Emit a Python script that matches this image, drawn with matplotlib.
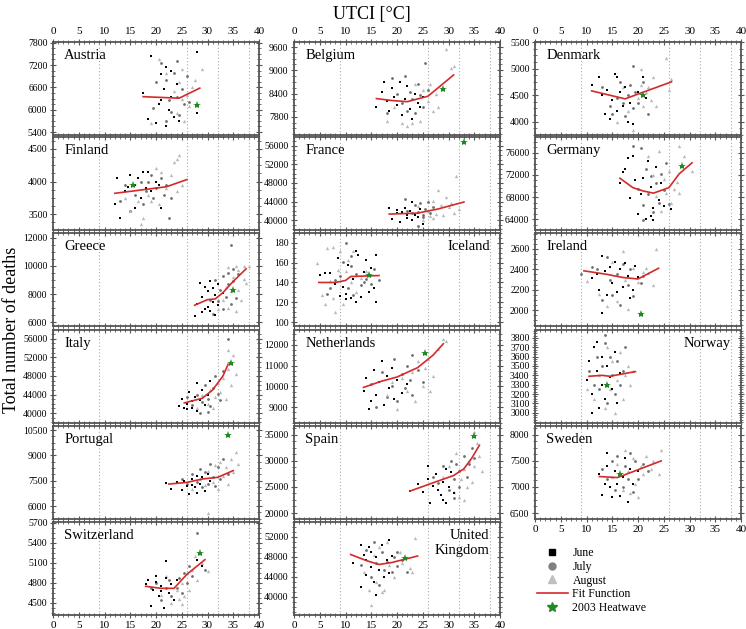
import matplotlib
matplotlib.use('Agg')
import matplotlib.pyplot as plt
from matplotlib.ticker import MultipleLocator, FixedLocator, AutoMinorLocator
from matplotlib.lines import Line2D

plt.rcParams['font.family'] = ['Liberation Serif', 'DejaVu Serif']

# ---- data: (UTCI, deaths) ----
austria_jun = [(17.5,6450),(18.5,5750),(19,7450),(20,5650),(20.5,6150),(21,6950),(21.5,6550),(22,5550),(22,7150),
               (22.5,6000),(23,6350),(23.5,5800),(24,6700),(24.5,5700),(21,6250),(23,7050),(28,7550),(28,5900)]
austria_jul = [(19.5,6050),(20,6750),(21,7250),(22,6800),(22.5,6250),(23,5950),(23.5,7000),(24,6350),(24.5,5850),
               (25,6550),(25.5,6150),(26,6900),(24,7300),(22,5700),(26.5,6200)]
austria_aug = [(19,5650),(20.5,7350),(22,7000),(23.5,6500),(24,5900),(24.5,6750),(25,7100),(25.5,5700),(26,6400),
               (26.5,6100),(27,6600),(27.5,6800),(29,7100),(28,6150),(25,6300)]
austria_fit = [(17.5,6350),(24.5,6310),(28.5,6580)]
austria_star = (28,6130)

belgium_jun = [(16,8050),(17,8450),(17.5,8700),(18,8200),(18.5,7950),(19,8550),(19.5,8300),(20,8100),(20.5,8700),
               (21,7850),(21.5,8250),(22,8600),(22.5,8000),(23,7750),(23.5,8400),(24,8150),(24.5,8050),(25,8300)]
belgium_jul = [(18,7900),(19,8800),(20,8400),(21,8150),(21.5,8850),(22,7950),(22.5,8450),(23,8250),(23.5,7900),
               (24,8650),(24.5,8350),(25,8050),(25.5,9200),(26,8500)]
belgium_aug = [(18,7700),(19.5,8050),(21,7650),(22,7550),(23,7650),(23.5,8650),(24.5,7700),(25,8500),(26,8200),
               (27,7950),(27.5,8400),(28,8050),(29.5,9550),(30.5,9050),(31,9100),(26.5,8650)]
belgium_fit = [(16,8270),(19,8220),(22,8190),(26,8330),(31,8880)]
belgium_star = (29,8530)

denmark_jun = [(11,4700),(12.5,4850),(13,4500),(13.5,4150),(14,4600),(14.5,4050),(15,4400),(15.5,4900),(16,4200),
               (16.5,4550),(17,4300),(17.5,4650),(18,4000),(18.5,4350),(19,3950),(20,4550),(21,4850),(21.5,4450),(16,4850)]
denmark_jul = [(13,4650),(14.5,4300),(15,4150),(16,4450),(16.5,4750),(17,4350),(17.5,4100),(18,4500),(18.5,4700),
               (19,4250),(19.5,4550),(20,4350),(21,4750),(22,4150),(19,5050)]
denmark_aug = [(16,4000),(17,4650),(18,4200),(19,3850),(20,4450),(20.5,4700),(21,4300),(21.5,4550),(22,4650),
               (22.5,4400),(23,4850),(23.5,4300),(25.5,5200),(26,4600),(26.5,4800),(20.5,5000)]
denmark_fit = [(11,4580),(17.5,4430),(20,4520),(26.5,4750)]
denmark_star = (21,4500)

finland_jun = [(12,3650),(12.5,4050),(13,3450),(14,3850),(15,4100),(15.5,3950),(16,3600),(16.5,4050),(17,3750),
               (17.5,4150),(18,3900),(18.5,4150),(19,3850),(20,4000),(20.5,3950),(21,3600),(16,3950),(14.5,3920)]
finland_jul = [(13,3700),(14,3950),(15,3550),(16,3800),(17,4000),(17.5,3650),(18,3850),(19,4100),(19.5,3750),
               (20,3900),(21,4050),(21.5,3800),(22,3950),(23,3750),(22.5,3450),(18.5,4000)]
finland_aug = [(14,3750),(15,3550),(16.5,3700),(17,3350),(17.5,3450),(18.5,3800),(19,3700),(20,4200),(20.5,3650),
               (21,4150),(22,3900),(23,4100),(23.5,4300),(24,4350),(24.5,4400),(25,3950),(24,3850)]
finland_fit = [(12,3820),(18,3880),(22,3920),(26,4030)]
finland_star = (15.5,3950)

france_jun = [(18.5,42600),(19,40300),(20,42200),(20.5,39600),(21,41800),(21.5,42700),(22,40500),(22.5,41900),
              (23,43800),(23.5,41000),(24,40700),(24.5,42400),(25,39100),(20,41500),(22,41200),(23,40000)]
france_jul = [(21.5,44500),(22,42000),(23,41500),(23.5,43200),(24,41800),(24.5,43600),(25,40600),(25.5,42300),
              (26,43900),(26.5,41600),(27,42800),(24,38700),(25,41200)]
france_aug = [(24,43000),(25,40100),(26,42000),(26.5,40800),(27,44100),(27.5,41300),(28,46500),(28.5,43300),
              (29,41000),(29.5,45000),(30,42800),(30.5,43700),(31,41600),(31.5,49600),(32,42500),(27,40400)]
france_fit = [(18.5,41300),(24,41500),(28,42400),(33,43900)]
france_star = (33,56800)

germany_jun = [(16.5,70500),(17,72500),(17.5,73000),(18,75000),(18.5,67800),(19,75500),(19.5,71000),(20,65000),
               (20.5,68500),(21,71500),(21.5,64000),(22,74500),(22.5,69800),(23,66000),(23,63800),(23.5,73500),
               (24,67500),(24.5,70500),(25,66300),(22.5,64500),(26.5,65800)]
germany_jul = [(19,77200),(20,69500),(20.5,76900),(21,66500),(21.5,73000),(22,68500),(22.5,71800),(23,65200),
               (23.5,70500),(24,67000),(24.5,72200),(25,69300),(25.5,74200),(26,66700),(21,63900)]
germany_aug = [(22,75500),(23,72000),(23.5,68200),(24,76400),(24.5,65500),(25,71200),(25.5,68800),(26,72800),
               (26.5,67000),(27,69500),(27.5,70800),(28,77200),(29,75500),(30.5,72800),(28,68800)]
germany_fit = [(16.5,71400),(19,69700),(21,69100),(23,68700),(26,69700),(28,72200),(30.5,74200)]
germany_star = (28.5,73700)

greece_jun = [(27.5,6400),(28,7300),(28.5,8800),(29,6700),(29,7800),(29.5,8500),(30,7100),(30,8200),(30.5,6800),
              (30.5,8900),(31,7400),(31,8400),(31.5,6500),(31.5,7900),(32,8700),(32,7200),(33,8100),(29.5,6900)]
greece_jul = [(30.5,7600),(31,6600),(31.5,9000),(32,7500),(32.5,8300),(33,9300),(33,6900),(33.5,7800),(34,8700),
              (34,9500),(34.5,7300),(35,8900),(35,9800),(35.5,7700),(36,9400),(34.5,11500)]
greece_aug = [(32,6900),(33,7600),(33.5,8500),(34,7000),(34.5,8200),(35,9200),(35.5,6800),(35.5,10000),(36,8300),
              (36,9700),(36.5,7600),(37,9100),(37,10000),(37.5,8800),(38,10000),(34,9900)]
greece_fit = [(27.5,7200),(30,7600),(31.5,7650),(33,8100),(35,8900),(37.5,9800)]
greece_star = (35,8300)

iceland_jun = [(5,148),(6,150),(7,150),(8,138),(8.5,165),(9,126),(9.5,135),(10,123),(10.5,158),(11,124),(11.5,144),
               (12,120),(12.5,168),(13,125),(13.5,151),(14,163),(14.5,130),(15,155),(15.5,134),(16,168),(16,120),
               (10,128),(12,172)]
iceland_jul = [(6.5,128),(7,134),(8,143),(9,147),(9.5,161),(10,180),(10.5,134),(11,157),(11.5,127),(12,149),
               (13,137),(13.5,140),(14,144),(15,138),(15.5,154),(16.5,143),(11,167)]
iceland_aug = [(4.5,160),(5.5,127),(6,118),(6.5,175),(7,141),(7.5,124),(8,110),(8.5,153),(9,172),(9.5,118),
               (10,152),(10.5,163),(11,140),(11.5,172),(12,130),(13,145),(14,152),(7.5,176)]
iceland_fit = [(4.8,140),(8,140),(10,142),(11,146),(16.5,147)]
iceland_star = (14.5,148)

ireland_jun = [(12,2350),(12.5,2200),(13,2530),(13.5,2380),(14,2150),(14.5,2420),(15,2270),(15.5,2470),(16,2180),
               (16.5,2400),(17,2230),(17.5,2460),(18,2330),(18.5,2120),(19,2200),(19.5,2430),(20,2320),(13,1970),
               (11,2310)]
ireland_jul = [(9,2350),(11,2420),(12,2400),(13,2100),(14,2520),(14.5,2300),(15,2150),(16,2350),(16.5,2050),
               (17,2450),(18,2250),(18.5,2400),(19,2140),(20.5,2270),(21,2330)]
ireland_aug = [(10,2290),(12.5,2160),(14,2040),(15,2470),(16,2090),(17,2580),(17.5,2300),(18,2010),(19,2410),
               (20,2280),(21,2370),(22,2360),(23,2250),(23.5,2600),(21.5,2410)]
ireland_fit = [(9.5,2385),(14,2350),(17,2320),(20,2305),(24,2410)]
ireland_star = (20.5,1965)

italy_jun = [(24.5,41500),(25,43000),(25.5,41000),(26,42000),(26.5,44500),(27,41200),(27.5,43500),(28,40500),
             (28,46500),(28.5,42800),(29,45000),(29.5,41800),(30,44000),(30.5,47000),(26,40800),(27,42600)]
italy_jul = [(26,43500),(27,41800),(28,44000),(28.5,40000),(29,42500),(29.5,46000),(30,43000),(30.5,41500),
             (31,45500),(31.5,48000),(32,44200),(32.5,42800),(33,49000),(34,56000),(30,40200)]
italy_aug = [(28,41200),(29,43800),(30,42000),(30.5,45000),(31,41000),(31.5,43500),(32,46500),(32.5,44500),
             (33,47500),(33.5,43000),(34,49500),(34.5,46000),(35,52500),(35.5,48500),(34,53500)]
italy_fit = [(25.5,42200),(29,43200),(31,45000),(33,48000),(34,50500)]
italy_star = (34.5,50800)

netherlands_jun = [(13.5,9800),(14,10400),(15,9300),(15.5,10800),(16,9600),(16.5,10200),(17,11200),(17.5,9100),
                   (18,10500),(18.5,9900),(19,10900),(19.5,9400),(20,10300),(21,9700),(22,10100),(14.5,8900)]
netherlands_jul = [(15,10100),(16,9000),(17,10700),(18,9500),(19,10000),(19.5,11300),(20,9300),(21,10600),
                   (21.5,9900),(22,11000),(22.5,10300),(23,9600),(24,10800),(23,11500),(25,10200)]
netherlands_aug = [(18,9600),(19,10200),(20,8900),(21,10400),(22,9800),(23,10700),(23.5,9300),(24,11200),
                   (25,10000),(25.5,10900),(26,11300),(27,10500),(28,11800),(29,12300),(29.5,12200),(26.5,9800)]
netherlands_fit = [(13.5,9950),(17,10250),(20,10450),(24,10900),(27,11500),(29,12050)]
netherlands_star = (25.5,11600)

norway_jun = [(10,3350),(10.5,3550),(11,3200),(11.5,3700),(12,3450),(12.5,3050),(13,3600),(13,3300),(13.5,3150),
              (14,3500),(14.5,3380),(15,3250),(15.5,3650),(16,3100),(16.5,3420),(12,3760),(11,3000)]
norway_jul = [(10.5,3450),(11.5,3300),(12,3600),(12.5,3250),(13,3500),(13.5,3750),(14,3100),(14.5,3600),
              (15,3400),(15.5,3200),(16,3550),(16.5,3300),(17,3450),(17.5,3700),(13.5,3830)]
norway_aug = [(10,3250),(11.5,3150),(12.5,3400),(13.5,3050),(14,3700),(14.5,3250),(15,3550),(16,3350),
              (16.5,3650),(17,3150),(17.5,3400),(18,3500),(18.5,3300),(19,3450),(15.5,3000)]
norway_fit = [(10.5,3390),(13,3400),(14.5,3390),(19.5,3440)]
norway_star = (14,3300)

portugal_jun = [(22,7350),(23,7000),(24,7400),(25,6950),(25.5,7500),(26,7200),(26.5,6700),(27,7600),(27.5,7100),
                (28,7800),(28,6800),(28.5,7300),(29,7700),(29.5,6900),(30,7900),(30.5,7500),(27,7250)]
portugal_jul = [(25,7600),(26,7300),(27,7900),(28,7400),(28.5,8200),(29,7100),(29.5,8000),(30,7300),(30.5,8500),
                (31,7700),(31.5,7200),(32,8300),(32.5,7600),(33,8800),(34,7900)]
portugal_aug = [(27,7000),(28.5,7600),(29.5,7250),(30,8100),(31,7450),(31.5,8400),(32,7000),(32.5,8600),(33,7800),
                (33.5,8300),(34,7300),(34.5,8800),(35,8000),(35.5,9200),(30,5600),(36,8500)]
portugal_fit = [(22.5,7300),(26,7400),(29,7600),(32,7700),(35,8100)]
portugal_star = (34,10200)

spain_jun = [(22.5,24200),(24,25500),(25,24000),(26,26500),(26.5,22000),(27,25200),(27.5,27500),(28,24500),
             (28.5,23500),(29,26000),(29,22500),(29.5,28500),(30,25000),(30.5,27800),(31,23800),(29.5,22000),(26,29000)]
spain_jul = [(27,27000),(28,25800),(29,29000),(30,24500),(30.5,30000),(31,26500),(31.5,29500),(32,25000),
             (32,28000),(33,31000),(33.5,27000),(34,29500),(34.5,32500),(35,30500),(31,22800)]
spain_aug = [(29,27000),(30,29000),(31,24000),(31.5,31500),(32,23000),(32.5,26500),(33,28500),(33.5,25000),
             (34,30000),(34.5,26000),(35,29000),(35.5,33500),(36,31000),(36.5,28000),(33,22500),(35,35500)]
spain_fit = [(22.5,24200),(27,25800),(31,27200),(33,28500),(34.5,30500),(36,33000)]
spain_star = (35,34800)

sweden_jun = [(12.5,7250),(13,6850),(13.5,7050),(14,7400),(14.5,7000),(15,6800),(15.5,7300),(16,7050),(16.5,6820),
              (17,7200),(17.5,7550),(18,6720),(18.5,7350),(19,7050),(20,7300),(14,7650)]
sweden_jul = [(13,7350),(14,7150),(15,7500),(15.5,6950),(16,7600),(16.5,7250),(17,7000),(17.5,7400),(18,7150),
              (18.5,7650),(19,6900),(19.5,7500),(20,7150),(21,7450),(22,7300)]
sweden_aug = [(15,7200),(16,7450),(17,6950),(17.5,7700),(18,7300),(18.5,6880),(19,7550),(19.5,7050),(20,6800),
              (20.5,7400),(21,7250),(21.5,7600),(22.5,7350),(23,7500),(24.5,7700),(24,7250)]
sweden_fit = [(12.5,7200),(16,7180),(20,7330),(24.5,7500)]
sweden_star = (16.5,7250)

switzerland_jun = [(18,4780),(18.5,4850),(19,4460),(19.5,4700),(20,4820),(20.5,4600),(21,4750),(21.5,4430),
                   (22,4880),(22.5,4650),(23,4780),(23.5,4550),(24,4850),(21,4680),(20,4900),(22,5130),(28,5150),(29,5050)]
switzerland_jul = [(19,4720),(20,4800),(21,4550),(22,4720),(22.5,4850),(23,4600),(24,4730),(24.5,4880),(25,4650),
                   (25.5,4950),(26,4800),(26.5,5050),(27,4900),(28,5550),(29.5,5000)]
switzerland_aug = [(21,4620),(22,4900),(23,4500),(24,4700),(24.5,4560),(25,4800),(25.5,4600),(26,4950),(26.5,4700),
                   (27,5000),(27.5,5200),(28,4850),(29,5100),(30,4980),(25,4480)]
switzerland_fit = [(18,4750),(21,4720),(23.5,4720),(26,4930),(29.5,5150)]
switzerland_star = (28.5,5250)

uk_jun = [(11.5,46800),(13,42000),(13,50500),(13.5,48500),(14,44500),(14,47500),(14.5,50000),(15,46000),(15,49000),
          (15.5,43000),(16,48000),(16.5,45500),(17,50500),(17.5,44000),(18,47500),(18.5,51500),(18.5,44800),
          (19,48200),(16,40500)]
uk_jul = [(13,46500),(14,49500),(15,44000),(15.5,51000),(16,46800),(16.5,42500),(17,49000),(17.5,45500),(18,47000),
          (19,45000),(19.5,48000),(20,46200),(21,47500),(22,45000),(20,49000)]
uk_aug = [(13.5,45000),(14.5,41500),(15,38500),(15.5,48500),(16,43000),(16.5,50000),(17,41000),(18,51000),
          (18.5,46500),(19.5,44000),(20.5,49000),(21,46800),(22.5,45800),(23,45000),(23.5,51800),(17.5,41500)]
uk_fit = [(11,48500),(14,47300),(16.5,46500),(19,46900),(24,48200)]
uk_star = (21.5,47900)

# name, y-limits, y-ticks, June, July, August, fit, star, label on right
panels = [
    ('Austria', (5320, 7820), [5400, 6000, 6600, 7200, 7800], austria_jun, austria_jul, austria_aug, austria_fit, austria_star, False),
    ('Belgium', (7330, 9730), [7800, 8400, 9000, 9600], belgium_jun, belgium_jul, belgium_aug, belgium_fit, belgium_star, False),
    ('Denmark', (3750, 5500), [4000, 4500, 5000, 5500], denmark_jun, denmark_jul, denmark_aug, denmark_fit, denmark_star, False),
    ('Finland', (3260, 4680), [3500, 4000, 4500], finland_jun, finland_jul, finland_aug, finland_fit, finland_star, False),
    ('France', (37870, 57900), [40000, 44000, 48000, 52000, 56000], france_jun, france_jul, france_aug, france_fit, france_star, False),
    ('Germany', (62030, 78870), [64000, 68000, 72000, 76000], germany_jun, germany_jul, germany_aug, germany_fit, germany_star, False),
    ('Greece', (5720, 12350), [6000, 8000, 10000, 12000], greece_jun, greece_jul, greece_aug, greece_fit, greece_star, False),
    ('Iceland', (96, 190), [100, 120, 140, 160, 180], iceland_jun, iceland_jul, iceland_aug, iceland_fit, iceland_star, True),
    ('Ireland', (1845, 2755), [2000, 2200, 2400, 2600], ireland_jun, ireland_jul, ireland_aug, ireland_fit, ireland_star, False),
    ('Italy', (37870, 57900), [40000, 44000, 48000, 52000, 56000], italy_jun, italy_jul, italy_aug, italy_fit, italy_star, False),
    ('Netherlands', (8240, 12710), [9000, 10000, 11000, 12000], netherlands_jun, netherlands_jul, netherlands_aug, netherlands_fit, netherlands_star, False),
    ('Norway', (2890, 3885), [3000, 3100, 3200, 3300, 3400, 3500, 3600, 3700, 3800], norway_jun, norway_jul, norway_aug, norway_fit, norway_star, True),
    ('Portugal', (5230, 10740), [6000, 7500, 9000, 10500], portugal_jun, portugal_jul, portugal_aug, portugal_fit, portugal_star, False),
    ('Spain', (18850, 36700), [20000, 25000, 30000, 35000], spain_jun, spain_jul, spain_aug, spain_fit, spain_star, False),
    ('Sweden', (6385, 8170), [6500, 7000, 7500, 8000], sweden_jun, sweden_jul, sweden_aug, sweden_fit, sweden_star, False),
    ('Switzerland', (4320, 5715), [4500, 4800, 5100, 5400, 5700], switzerland_jun, switzerland_jul, switzerland_aug, switzerland_fit, switzerland_star, False),
    ('United\nKingdom', (36400, 55000), [40000, 44000, 48000, 52000], uk_jun, uk_jul, uk_aug, uk_fit, uk_star, True),
]

thresholds = [9, 26, 32, 38]

W, H = 746, 629
fig = plt.figure(figsize=(W / 100, H / 100), dpi=100)

col_left = [53, 294, 535]
col_w = 206
row_top = [42, 137, 233, 330, 426, 522]
row_h = 93

fit_color = '#d42a2a'
star_color = '#1f8a1f'

for i, (name, ylim, yticks, jun, jul, aug, fit, star, right) in enumerate(panels):
    r, c = divmod(i, 3)
    ax = fig.add_axes([col_left[c] / W, 1 - (row_top[r] + row_h) / H, col_w / W, row_h / H])

    for t in thresholds:
        ax.axvline(t, color='#aaaaaa', ls=(0, (1, 2)), lw=0.8, zorder=0)

    ax.plot([p[0] for p in jun], [p[1] for p in jun], 's', ms=2.0, color='black', mew=0, zorder=3)
    ax.plot([p[0] for p in jul], [p[1] for p in jul], 'o', ms=2.0, color='#6e6e6e', mew=0, zorder=2)
    ax.plot([p[0] for p in aug], [p[1] for p in aug], '^', ms=2.4, color='#b8b8b8', mew=0, zorder=2)
    ax.plot([p[0] for p in fit], [p[1] for p in fit], '-', color=fit_color, lw=1.2, zorder=4)
    ax.plot([star[0]], [star[1]], '*', ms=6, color=star_color, mew=0, zorder=5)

    ax.set_xlim(0, 40)
    ax.set_ylim(*ylim)
    ax.xaxis.set_major_locator(MultipleLocator(5))
    ax.xaxis.set_minor_locator(MultipleLocator(1))
    ax.yaxis.set_major_locator(FixedLocator(yticks))
    ax.yaxis.set_minor_locator(AutoMinorLocator(4))

    bottom_row = (r == 5) or (r == 4 and c == 2)
    ax.tick_params(which='both', top=True, bottom=True, left=True, right=True,
                   direction='inout', color='#555555', labeltop=(r == 0), labelbottom=bottom_row)
    ax.tick_params(which='major', length=4, width=0.8)
    ax.tick_params(which='minor', length=2.5, width=0.6)
    ax.tick_params(axis='y', labelsize=7, pad=2)
    ax.tick_params(axis='x', labelsize=8, pad=2)
    for s in ax.spines.values():
        s.set_color('#555555')
        s.set_linewidth(1.3)

    if right:
        ax.text(0.95, 0.92, name, transform=ax.transAxes, ha='right', va='top',
                fontsize=10.5, multialignment='right')
    else:
        ax.text(0.055, 0.92, name, transform=ax.transAxes, ha='left', va='top', fontsize=10.5)

fig.text(372 / W, 1 - 14 / H, 'UTCI [°C]', ha='center', va='center', fontsize=13)
fig.text(12 / W, 1 - 330 / H, 'Total number of deaths', ha='center', va='center',
         rotation=90, fontsize=13)

handles = [
    Line2D([], [], ls='none', marker='s', ms=5, color='black'),
    Line2D([], [], ls='none', marker='o', ms=5, color='#808080'),
    Line2D([], [], ls='none', marker='^', ms=6, color='#c0c0c0'),
    Line2D([], [], color=fit_color, lw=1.2),
    Line2D([], [], ls='none', marker='*', ms=7, color=star_color),
]
labels = ['June', 'July', 'August', 'Fit Function', '2003 Heatwave']
fig.legend(handles, labels, loc='upper left', bbox_to_anchor=(537 / W, 1 - 547 / H),
           frameon=False, fontsize=8.5, handlelength=2.6, handletextpad=0.4,
           labelspacing=0.15, borderpad=0, borderaxespad=0)

fig.savefig('out.png', dpi=100)
